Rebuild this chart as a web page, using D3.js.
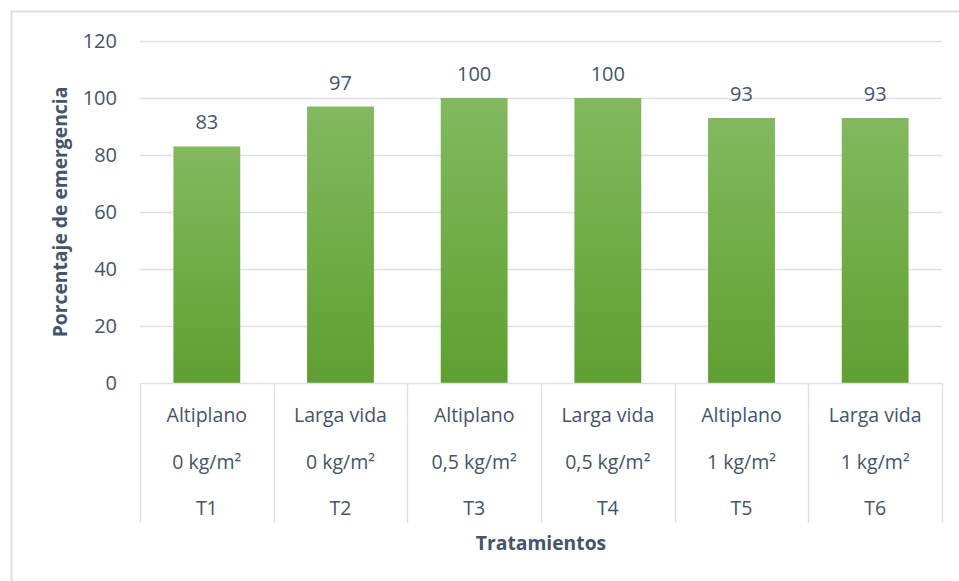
<!DOCTYPE html>
<html>
<head>
<meta charset="utf-8">
<script src="https://cdn.jsdelivr.net/npm/d3@7"></script>
<style>
  html, body { margin: 0; padding: 0; background: #fff; }
  svg { display: block; font-family: "Open Sans", Lato, sans-serif; }
</style>
</head>
<body>
<svg id="chart" width="959" height="581"></svg>
<script>
// Emergence percentage by treatment
const categories = ["T1", "T2", "T3", "T4", "T5", "T6"];
const varieties = ["Altiplano", "Larga vida", "Altiplano", "Larga vida", "Altiplano", "Larga vida"];
const doses = ["0 kg/m²", "0 kg/m²", "0,5 kg/m²", "0,5 kg/m²", "1 kg/m²", "1 kg/m²"];
const values = [83, 97, 100, 100, 93, 93];
const yTicks = [0, 20, 40, 60, 80, 100, 120];

const textColor = "#44546A";
const gridColor = "#DCE1E8";
const font = "'Open Sans', Lato, sans-serif";

const svg = d3.select("#chart");

// chart frame
svg.append("path")
  .attr("d", "M11.5,581 V11.5 H959")
  .attr("fill", "none")
  .attr("stroke", "#DCE1E8")
  .attr("stroke-width", 2);

const plot = { left: 140, right: 942, top: 41, bottom: 383 };

const x = d3.scaleBand()
  .domain(categories)
  .range([plot.left, plot.right])
  .paddingInner(0.5)
  .paddingOuter(0.25);

const xCell = d3.scaleBand()
  .domain(categories)
  .range([plot.left, plot.right])
  .padding(0);

const y = d3.scaleLinear()
  .domain([0, 120])
  .range([plot.bottom, plot.top]);

// gradient fill for bars
const defs = svg.append("defs");
const grad = defs.append("linearGradient")
  .attr("id", "barGrad")
  .attr("x1", 0).attr("y1", 0).attr("x2", 0).attr("y2", 1);
grad.append("stop").attr("offset", "0%").attr("stop-color", "#83B85F");
grad.append("stop").attr("offset", "50%").attr("stop-color", "#70AD47");
grad.append("stop").attr("offset", "100%").attr("stop-color", "#5F9F31");

// gridlines
svg.append("g")
  .selectAll("line")
  .data(yTicks.filter(d => d > 0))
  .join("line")
  .attr("x1", plot.left)
  .attr("x2", plot.right)
  .attr("y1", d => Math.round(y(d)) + 0.5)
  .attr("y2", d => Math.round(y(d)) + 0.5)
  .attr("stroke", gridColor)
  .attr("stroke-width", 1.5);

// y axis tick labels
const yAxis = d3.axisLeft(y).tickValues(yTicks).tickSize(0).tickPadding(0);
const gy = svg.append("g")
  .attr("transform", `translate(${plot.left - 23},0)`)
  .call(yAxis);
gy.select(".domain").remove();
gy.selectAll("text")
  .attr("fill", textColor)
  .attr("font-size", 20)
  .attr("font-family", font);

// bars
svg.append("g")
  .selectAll("rect")
  .data(categories)
  .join("rect")
  .attr("x", d => x(d))
  .attr("width", x.bandwidth())
  .attr("y", (d, i) => y(values[i]))
  .attr("height", (d, i) => y(0) - y(values[i]))
  .attr("fill", "url(#barGrad)");

// value labels
svg.append("g")
  .selectAll("text")
  .data(categories)
  .join("text")
  .attr("x", d => x(d) + x.bandwidth() / 2)
  .attr("y", (d, i) => y(values[i]) - 17)
  .attr("text-anchor", "middle")
  .attr("fill", textColor)
  .attr("font-size", 20)
  .text((d, i) => values[i]);

// category axis: baseline and cell separators
const axisBottom = 523;
svg.append("line")
  .attr("x1", plot.left).attr("x2", plot.right)
  .attr("y1", plot.bottom + 0.5).attr("y2", plot.bottom + 0.5)
  .attr("stroke", gridColor).attr("stroke-width", 1.5);

const seps = categories.map(d => xCell(d)).concat([plot.right]);
svg.append("g")
  .selectAll("line")
  .data(seps)
  .join("line")
  .attr("x1", d => Math.round(d) + 0.5)
  .attr("x2", d => Math.round(d) + 0.5)
  .attr("y1", plot.bottom)
  .attr("y2", axisBottom)
  .attr("stroke", gridColor)
  .attr("stroke-width", 1.5);

// multi-level category labels
const rows = [varieties, doses, categories];
const rowY = [422, 469, 515];
rows.forEach((row, r) => {
  svg.append("g")
    .selectAll("text")
    .data(categories)
    .join("text")
    .attr("x", d => xCell(d) + xCell.bandwidth() / 2)
    .attr("y", rowY[r])
    .attr("text-anchor", "middle")
    .attr("fill", textColor)
    .attr("font-size", 19.5)
    .text((d, i) => row[i]);
});

// axis titles
svg.append("text")
  .attr("x", (plot.left + plot.right) / 2)
  .attr("y", 550)
  .attr("text-anchor", "middle")
  .attr("fill", textColor)
  .attr("font-size", 19.3)
  .attr("font-weight", "bold")
  .text("Tratamientos");

svg.append("text")
  .attr("transform", `translate(67,${(plot.top + plot.bottom) / 2}) rotate(-90)`)
  .attr("text-anchor", "middle")
  .attr("fill", textColor)
  .attr("font-size", 19.3)
  .attr("font-weight", "bold")
  .text("Porcentaje de emergencia");
</script>
</body>
</html>
